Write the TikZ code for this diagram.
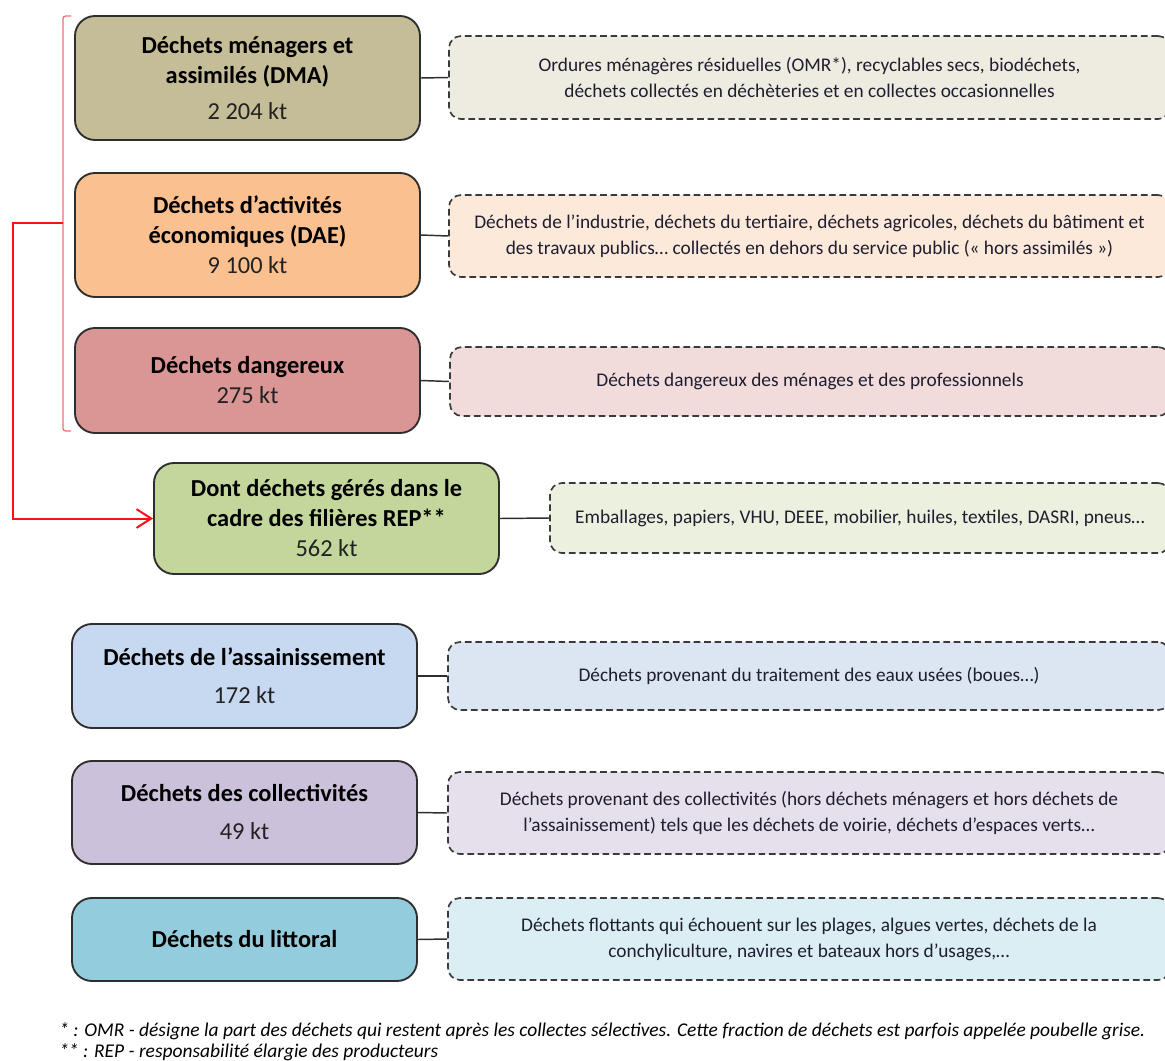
\documentclass[tikz,border=0pt]{standalone}
\usepackage{fontspec}
\setmainfont{Carlito}
\usetikzlibrary{arrows.meta}

% box fills
\definecolor{dmaF}{HTML}{C4BD97}
\definecolor{dmaL}{HTML}{EEECE1}
\definecolor{daeF}{HTML}{FAC090}
\definecolor{daeL}{HTML}{FDE9D9}
\definecolor{dgF}{HTML}{D99694}
\definecolor{dgL}{HTML}{F2DCDB}
\definecolor{repF}{HTML}{C3D69B}
\definecolor{repL}{HTML}{EBF1DE}
\definecolor{assF}{HTML}{C6D9F1}
\definecolor{assL}{HTML}{DCE6F2}
\definecolor{colF}{HTML}{CCC1DA}
\definecolor{colL}{HTML}{E6E0EC}
\definecolor{litF}{HTML}{93CDDD}
\definecolor{litL}{HTML}{DBEEF4}
% strokes and text
\definecolor{boxline}{HTML}{2E2E2E}
\definecolor{noteline}{HTML}{3A3A3A}
\definecolor{notetext}{HTML}{1E1E30}
\definecolor{numtext}{HTML}{222222}
\definecolor{bracketred}{HTML}{F07070}
\definecolor{arrowred}{HTML}{FF1010}

\begin{document}
\begin{tikzpicture}[x=0.75pt,y=-0.75pt,
  mainbox/.style={draw=boxline, line width=1.4pt, rounded corners=15pt,
    inner sep=0pt, align=center, text=black,
    font=\fontsize{18.3}{22.5}\selectfont, minimum width=258.75pt},
  notebox/.style={draw=noteline, line width=1.25pt, dash pattern=on 5pt off 2.8pt,
    rounded corners=9pt, inner sep=0pt, align=center, text=notetext,
    font=\fontsize{14.5}{19.5}\selectfont},
  link/.style={draw=boxline, line width=1.1pt},
  footnote/.style={anchor=base west, inner sep=0pt, text=black,
    font=\fontsize{14.6}{18}\selectfont\itshape}]

\useasboundingbox (0,0) rectangle (1165,1061);
\clip (0,0) rectangle (1165,1061);

% main categories
\node[mainbox, fill=dmaF, minimum height=93pt] (dma) at (247.5,78)
  {\textbf{Déchets ménagers et}\\ \textbf{assimilés (DMA)}\\[5pt] \color{numtext}2 204 kt};
\node[mainbox, fill=daeF, minimum height=93pt] (dae) at (247.5,235)
  {\textbf{Déchets d’activités}\\ \textbf{économiques (DAE)}\\ \color{numtext}9 100 kt};
\node[mainbox, fill=dgF, minimum height=78.75pt] (dang) at (247.5,380.5)
  {\textbf{Déchets dangereux}\\ \color{numtext}275 kt};
\node[mainbox, fill=repF, minimum height=83.25pt] (rep) at (326.5,518.5)
  {\textbf{Dont déchets gérés dans le}\\ \textbf{cadre des filières REP**}\\ \color{numtext}562 kt};
\node[mainbox, fill=assF, minimum height=78pt] (ass) at (244.5,676)
  {\textbf{Déchets de l’assainissement}\\[6pt] \color{numtext}172 kt};
\node[mainbox, fill=colF, minimum height=77.25pt] (col) at (244.5,812.5)
  {\textbf{Déchets des collectivités}\\[6pt] \color{numtext}49 kt};
\node[mainbox, fill=litF, minimum height=62.25pt] (lit) at (244.5,939.5)
  {\textbf{Déchets du littoral}};

% descriptions
\node[notebox, fill=dmaL, minimum width=540.75pt, minimum height=62.25pt] (dmaD) at (809.5,77.5)
  {Ordures ménagères résiduelles (OMR*), recyclables secs, biodéchets,\\
   déchets collectés en déchèteries et en collectes occasionnelles};
\node[notebox, fill=daeL, minimum width=540.75pt, minimum height=61.5pt] (daeD) at (809.5,236)
  {Déchets de l’industrie, déchets du tertiaire, déchets agricoles, déchets du bâtiment et\\
   des travaux publics… collectés en dehors du service public (« hors assimilés »)};
\node[notebox, fill=dgL, minimum width=540pt, minimum height=51.75pt] (dangD) at (810,381.5)
  {Déchets dangereux des ménages et des professionnels};
\node[notebox, fill=repL, minimum width=465pt, minimum height=52.5pt] (repD) at (860,518)
  {Emballages, papiers, VHU, DEEE, mobilier, huiles, textiles, DASRI, pneus…};
\node[notebox, fill=assL, minimum width=541.5pt, minimum height=51pt] (assD) at (809,676)
  {Déchets provenant du traitement des eaux usées (boues…)};
\node[notebox, fill=colL, minimum width=541.5pt, minimum height=61.5pt] (colD) at (809,813)
  {Déchets provenant des collectivités (hors déchets ménagers et hors déchets de\\
   l’assainissement) tels que les déchets de voirie, déchets d’espaces verts…};
\node[notebox, fill=litL, minimum width=541.5pt, minimum height=61.5pt] (litD) at (809,939)
  {Déchets flottants qui échouent sur les plages, algues vertes, déchets de la\\
   conchyliculture, navires et bateaux hors d’usages,…};

% links from categories to descriptions
\foreach \a in {dma,dae,dang,rep,ass,col,lit}
  \draw[link] (\a.east) -- (\a D.west);

% bracket grouping DMA, DAE and hazardous waste
\draw[bracketred, line width=1pt, rounded corners=2pt]
  (71,16) -- (63,16) -- (63,431) -- (71,431);
\coordinate (brk) at (63,223);

% arrow to the REP box
\draw[arrowred, line width=1.5pt, -{Straight Barb[length=11pt,width=14pt,line width=1.5pt]}]
  (brk) -- (13,223) -- (13,518.5) -- (rep.west);

% footnotes
\node[footnote] (fn1) at (59,1036)
  {* : OMR - désigne la part des déchets qui restent après les collectes sélectives. Cette fraction de déchets est parfois appelée poubelle grise.};
\node[footnote] (fn2) at (59,1057)
  {** : REP - responsabilité élargie des producteurs};

\end{tikzpicture}
\end{document}
